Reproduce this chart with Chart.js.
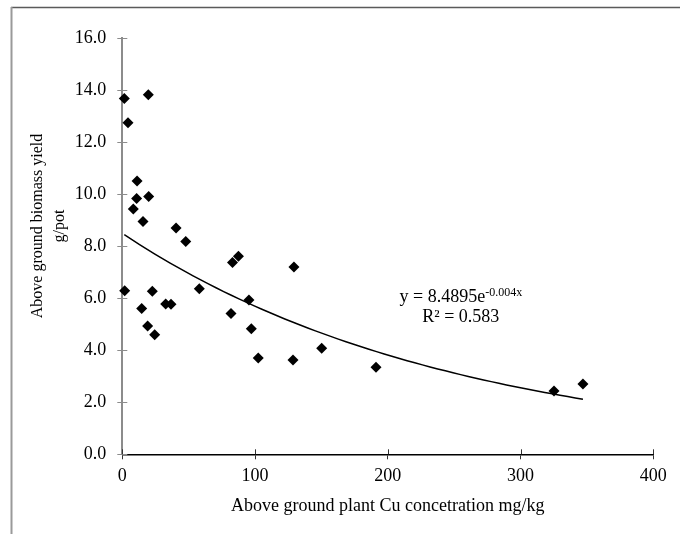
<!DOCTYPE html>
<html>
<head>
<meta charset="utf-8">
<script src="https://cdn.jsdelivr.net/npm/chart.js@4/dist/chart.umd.min.js"></script>
<style>
  html, body { margin: 0; padding: 0; background: #fff; }
  #wrap { width: 680px; height: 534px; }
</style>
</head>
<body>
<div id="wrap"><canvas id="cuChart" width="680" height="534"></canvas></div>
<script>
  // Cu concentration (mg/kg) vs. biomass yield (g/pot)
  const cuConc = [1.5, 4.3, 19.6, 11.1, 10.8, 8.3, 19.9, 15.6, 40.5, 47.8,
                  1.8, 14.6, 19.1, 24.4, 22.6, 32.7, 36.7, 58, 83, 87.5,
                  81.9, 95.4, 97.2, 102.4, 129.3, 128.6, 150.2, 191.1, 325.2, 347];
  const biomass = [13.67, 12.74, 13.82, 10.5, 9.83, 9.43, 9.91, 8.95, 8.7, 8.18,
                   6.29, 5.6, 4.93, 4.59, 6.27, 5.78, 5.77, 6.36, 7.37, 7.61,
                   5.41, 5.93, 4.83, 3.7, 7.2, 3.62, 4.08, 3.35, 2.43, 2.7];

  // exponential trendline as printed on the chart: y = 8.4895e^(-0.004x)
  const fitA = 8.4895;
  const fitB = -0.004;
  const fitLabel = ['y = 8.4895e', '-0.004x'];
  const r2Label = 'R² = 0.583';

  const xTicks = [0, 100, 200, 300, 400];
  const yTicks = [0, 2, 4, 6, 8, 10, 12, 14, 16];
  const yTitle = ['Above ground biomass yield', 'g/pot'];

  const serif = '"Liberation Serif", "Times New Roman", serif';

  const points = cuConc.map((x, i) => ({ x: x, y: biomass[i] }));

  // trendline sampled over the data range
  const xMin = Math.min(...cuConc);
  const xMax = Math.max(...cuConc);
  const trend = [];
  for (let i = 0; i <= 60; i++) {
    const x = xMin + (xMax - xMin) * i / 60;
    trend.push({ x: x, y: fitA * Math.exp(fitB * x) });
  }

  // outer frame (left + top edge of the original figure box)
  const framePlugin = {
    id: 'frame',
    beforeDraw(chart) {
      const ctx = chart.ctx;
      ctx.save();
      ctx.fillStyle = '#fff';
      ctx.fillRect(0, 0, chart.width, chart.height);
      ctx.strokeStyle = '#5a5a5a';
      ctx.lineWidth = 1.5;
      ctx.beginPath();
      ctx.moveTo(11, 7.5);
      ctx.lineTo(chart.width, 7.5);
      ctx.stroke();
      ctx.strokeStyle = '#9a9a9a';
      ctx.lineWidth = 2;
      ctx.beginPath();
      ctx.moveTo(11.5, 7);
      ctx.lineTo(11.5, chart.height);
      ctx.stroke();
      ctx.restore();
    }
  };

  // inner halves of the crossing tick marks + the y title (sits a bit above centre)
  const axisExtrasPlugin = {
    id: 'axisExtras',
    afterDraw(chart) {
      const ctx = chart.ctx;
      const xs = chart.scales.x;
      const ys = chart.scales.y;
      const area = chart.chartArea;
      ctx.save();
      ctx.lineWidth = 1;
      ctx.strokeStyle = '#8c8c8c';
      yTicks.forEach(v => {
        const py = Math.round(ys.getPixelForValue(v)) + 0.5;
        ctx.beginPath();
        ctx.moveTo(area.left, py);
        ctx.lineTo(area.left + 5, py);
        ctx.stroke();
      });
      ctx.strokeStyle = '#333';
      xTicks.forEach(v => {
        const px = Math.round(xs.getPixelForValue(v)) + 0.5;
        ctx.beginPath();
        ctx.moveTo(px, area.bottom);
        ctx.lineTo(px, area.bottom - 5);
        ctx.stroke();
      });

      ctx.fillStyle = '#000';
      ctx.font = '16px ' + serif;
      ctx.textAlign = 'center';
      ctx.textBaseline = 'middle';
      yTitle.forEach((line, i) => {
        ctx.save();
        ctx.translate(38 + i * 22, 226);
        ctx.rotate(-Math.PI / 2);
        ctx.fillText(line, 0, 0);
        ctx.restore();
      });
      ctx.restore();
    }
  };

  // equation + R² text next to the curve
  const fitTextPlugin = {
    id: 'fitText',
    afterDraw(chart) {
      const ctx = chart.ctx;
      const cx = chart.scales.x.getPixelForValue(255);
      const y1 = chart.scales.y.getPixelForValue(5.85);
      ctx.save();
      ctx.fillStyle = '#000';
      ctx.textBaseline = 'alphabetic';
      ctx.textAlign = 'left';
      ctx.font = '18px ' + serif;
      const wMain = ctx.measureText(fitLabel[0]).width;
      ctx.font = '12px ' + serif;
      const wSup = ctx.measureText(fitLabel[1]).width;
      const start = cx - (wMain + wSup) / 2;
      ctx.font = '18px ' + serif;
      ctx.fillText(fitLabel[0], start, y1);
      ctx.font = '12px ' + serif;
      ctx.fillText(fitLabel[1], start + wMain, y1 - 6);
      ctx.font = '18px ' + serif;
      ctx.textAlign = 'center';
      ctx.fillText(r2Label, cx, y1 + 20);
      ctx.restore();
    }
  };

  new Chart(document.getElementById('cuChart'), {
    type: 'scatter',
    data: {
      datasets: [{
        label: 'Biomass',
        data: points,
        pointStyle: 'rectRot',
        pointRadius: 5.5,
        pointBackgroundColor: '#000',
        pointBorderColor: '#000',
        pointBorderWidth: 0,
        clip: false,
        order: 1
      }, {
        label: 'Expon. trend',
        type: 'line',
        data: trend,
        borderColor: '#000',
        borderWidth: 1.5,
        pointRadius: 0,
        fill: false,
        tension: 0,
        order: 2
      }]
    },
    options: {
      responsive: false,
      animation: false,
      layout: { padding: { left: 20, right: 26.7, top: 38, bottom: 0 } },
      plugins: {
        legend: { display: false },
        tooltip: { enabled: false }
      },
      scales: {
        x: {
          type: 'linear',
          min: 0,
          max: 400,
          afterBuildTicks: s => { s.ticks = xTicks.map(v => ({ value: v })); },
          afterFit: s => { s.height = 534 - 454.3; },
          border: { color: '#000', width: 1.5 },
          grid: { drawOnChartArea: false, tickLength: 5, color: '#333' },
          ticks: { color: '#000', padding: 6, font: { family: serif, size: 18 } },
          title: {
            display: true,
            text: 'Above ground plant Cu concetration mg/kg',
            color: '#000',
            font: { family: serif, size: 18 },
            padding: { top: 0, bottom: 17 }
          }
        },
        y: {
          type: 'linear',
          min: 0,
          max: 16,
          afterBuildTicks: s => { s.ticks = yTicks.map(v => ({ value: v })); },
          afterFit: s => { s.width = 122.3 - 20; },
          border: { color: '#8c8c8c', width: 2 },
          grid: { drawOnChartArea: false, tickLength: 5, color: '#8c8c8c' },
          ticks: {
            color: '#000',
            padding: 11,
            font: { family: serif, size: 18 },
            callback: v => v.toFixed(1)
          },
          title: { display: false }
        }
      }
    },
    plugins: [framePlugin, axisExtrasPlugin, fitTextPlugin]
  });
</script>
</body>
</html>
